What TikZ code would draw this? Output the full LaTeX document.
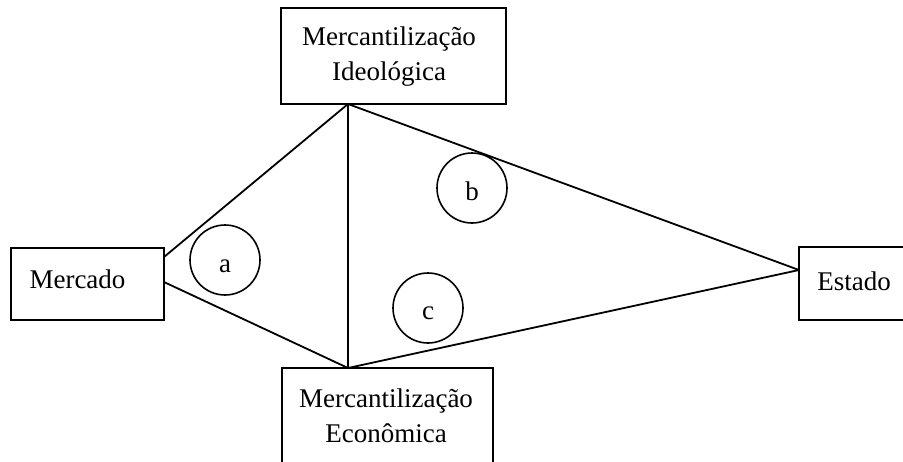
\documentclass[tikz,border=0pt]{standalone}
\usepackage{fontspec}
\setmainfont{Liberation Serif}
\begin{document}
\begin{tikzpicture}[x=1pt,y=-1pt,
  box/.style={draw,line width=1.8pt,rectangle,inner sep=0pt},
  lbl/.style={font=\fontsize{27}{35}\selectfont,align=center,inner sep=0pt},
  ring/.style={draw,line width=1.6pt,circle,minimum size=70pt,inner sep=0pt},
  letter/.style={font=\fontsize{27}{30}\selectfont,inner sep=0pt},
  edge/.style={line width=1.8pt}]
\useasboundingbox (0,0) rectangle (903,461);
% boxes
\node[box,minimum width=225pt,minimum height=96pt] (ideo) at (393.5,56) {};
\node[box,minimum width=211pt,minimum height=120pt] (econ) at (387.5,428) {};
\node[box,minimum width=153pt,minimum height=72pt] (merc) at (87.5,284) {};
\node[box,minimum width=110pt,minimum height=73pt] (est) at (854,283.5) {};
% labels
\node[lbl] (ideoT) at (389,57) {Mercantilização\\Ideológica};
\node[lbl] (econT) at (386,416) {Mercantilização\\Econômica};
\node[lbl] (mercT) at (77.5,279) {Mercado};
\node[lbl] (estT) at (854,281) {Estado};
% connection points
\coordinate (pT) at (348,104);
\coordinate (pB) at (348,368);
\coordinate (pM1) at (164,257);
\coordinate (pM2) at (164,282);
\coordinate (pE) at (799,270);
\draw[edge] (pM1) -- (pT);
\draw[edge] (pM2) -- (pB);
\draw[edge] (pT) -- (pB);
\draw[edge] (pT) -- (pE);
\draw[edge] (pB) -- (pE);
% circles
\node[ring] (ca) at (225,260) {};
\node[ring] (cb) at (472,188) {};
\node[ring] (cc) at (428,308) {};
\node[letter] (la) at (225,266) {a};
\node[letter] (lb) at (472,191) {b};
\node[letter] (lc) at (428,313) {c};
\end{tikzpicture}
\end{document}
